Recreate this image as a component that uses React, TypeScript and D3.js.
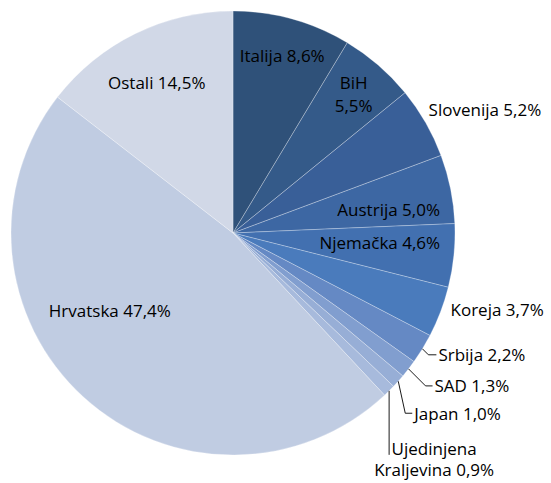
import React from "react";
import * as d3 from "d3";

const countries = [
  "Italija",
  "BiH",
  "Slovenija",
  "Austrija",
  "Njemačka",
  "Koreja",
  "Srbija",
  "SAD",
  "Japan",
  "Ujedinjena Kraljevina",
  "Hrvatska",
  "Ostali",
];
const shares = [8.6, 5.5, 5.2, 5.0, 4.6, 3.7, 2.2, 1.3, 1.0, 0.9, 47.4, 14.5];
const colors = [
  "#2f5179",
  "#345a89",
  "#395f98",
  "#3d67a3",
  "#4270b0",
  "#4a7bbc",
  "#6589c4",
  "#819ecf",
  "#97aed6",
  "#a7badc",
  "#c0cce2",
  "#d1d8e7",
];

// label placement: inside (fraction of radius), outside (offset from rim) or with a leader line
type Layout =
  | { kind: "in"; k: number; dx: number; dy: number; lines?: string[] }
  | { kind: "out"; dx: number; dy: number }
  | { kind: "leader"; elbow: [number, number]; run: number; lines?: string[] };

const layout: Layout[] = [
  { kind: "in", k: 0.83, dx: 0, dy: 0 },
  { kind: "in", k: 0.83, dx: 0, dy: 0, lines: ["BiH", "5,5%"] },
  { kind: "out", dx: 3, dy: -13 },
  { kind: "in", k: 0.72, dx: -1, dy: 8 },
  { kind: "in", k: 0.66, dx: 1, dy: -6 },
  { kind: "out", dx: 10, dy: -2 },
  { kind: "leader", elbow: [6, 6], run: 8 },
  { kind: "leader", elbow: [17, 17], run: 7 },
  { kind: "leader", elbow: [7, 32], run: 7 },
  { kind: "leader", elbow: [0, 64], run: 0, lines: ["Ujedinjena", "Kraljevina 0,9%"] },
  { kind: "in", k: 0.65, dx: -26, dy: -30 },
  { kind: "in", k: 0.78, dx: 0, dy: 4 },
];

const width = 551;
const height = 483;
const cx = 233;
const cy = 233;
const radius = 222;
const font = "'Open Sans', Lato, sans-serif";
const fontSize = 17;

const fmt = (v: number) => v.toFixed(1).replace(".", ",") + "%";

export default function App() {
  const pie = d3
    .pie<number>()
    .sort(null)
    .value((d) => d);
  const arcs = pie(shares);
  const arc = d3
    .arc<d3.PieArcDatum<number>>()
    .innerRadius(0)
    .outerRadius(radius);

  const polar = (a: number, r: number): [number, number] => [
    Math.sin(a) * r,
    -Math.cos(a) * r,
  ];

  return (
    <svg
      width={width}
      height={height}
      style={{ position: "absolute", left: 0, top: 0, background: "#fff" }}
    >
      <g transform={`translate(${cx},${cy})`}>
        {arcs.map((d, i) => (
          <path
            key={countries[i]}
            d={arc(d) || ""}
            fill={colors[i]}
            stroke="rgba(255,255,255,0.35)"
            strokeWidth={0.8}
          />
        ))}
        {arcs.map((d, i) => {
          const mid = (d.startAngle + d.endAngle) / 2;
          const L = layout[i];
          const label = `${countries[i]} ${fmt(shares[i])}`;
          const textProps = {
            fontFamily: font,
            fontSize,
            fill: "#000",
            dominantBaseline: "central" as const,
          };
          if (L.kind === "in") {
            const [x, y] = polar(mid, radius * L.k);
            const lines = L.lines || [label];
            return (
              <text
                key={i}
                x={x + L.dx}
                y={y + L.dy - ((lines.length - 1) * 23) / 2}
                textAnchor="middle"
                {...textProps}
              >
                {lines.map((t, j) => (
                  <tspan key={j} x={x + L.dx} dy={j === 0 ? 0 : 23}>
                    {t}
                  </tspan>
                ))}
              </text>
            );
          }
          if (L.kind === "out") {
            const [x, y] = polar(mid, radius);
            return (
              <text key={i} x={x + L.dx} y={y + L.dy} textAnchor="start" {...textProps}>
                {label}
              </text>
            );
          }
          const [sx, sy] = polar(mid, radius);
          const ex = sx + L.elbow[0];
          const ey = sy + L.elbow[1];
          const tx = ex + L.run;
          const lines = L.lines;
          return (
            <g key={i}>
              <polyline
                points={`${sx},${sy} ${ex},${ey} ${tx},${ey}`}
                fill="none"
                stroke="#000"
                strokeWidth={0.9}
              />
              {lines ? (
                <text
                  x={ex + 45}
                  y={ey - 7}
                  textAnchor="middle"
                  {...textProps}
                >
                  {lines.map((t, j) => (
                    <tspan key={j} x={ex + 45} dy={j === 0 ? 0 : 21}>
                      {t}
                    </tspan>
                  ))}
                </text>
              ) : (
                <text x={tx + 2} y={ey} textAnchor="start" {...textProps}>
                  {label}
                </text>
              )}
            </g>
          );
        })}
      </g>
    </svg>
  );
}
